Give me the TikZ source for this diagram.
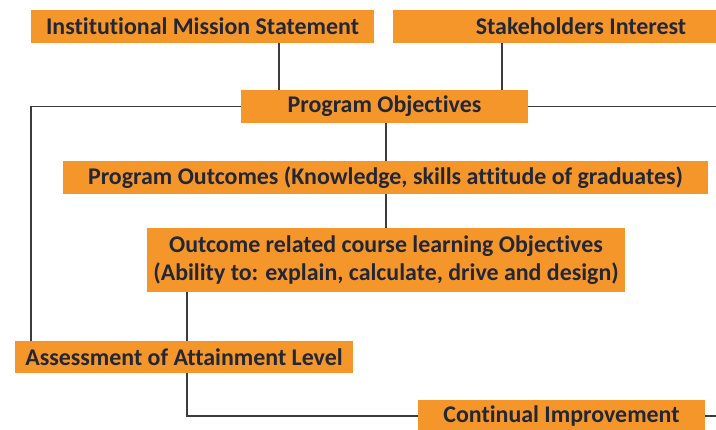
\documentclass[tikz,border=0pt]{standalone}
\usepackage{fontspec}
\setmainfont{Carlito}[Ligatures=NoCommon]
\definecolor{boxorange}{RGB}{245,150,42}
\definecolor{textnavy}{RGB}{35,38,52}
\definecolor{linegray}{RGB}{60,60,64}
\tikzset{
  obox/.style={fill=boxorange, text=textnavy, inner sep=0pt, align=center,
    font=\fontsize{17}{19.5}\selectfont\bfseries},
  link/.style={draw=linegray, line width=1pt}
}
\begin{document}
\begin{tikzpicture}[x=0.025cm, y=-0.025cm]
    \clip (0,0) rectangle (716,429);
    \useasboundingbox (0,0) rectangle (716,429);

    \node[obox, minimum width=343*0.025cm, minimum height=33*0.025cm] (ims) at (202.5,26.5) {Institutional Mission Statement};
    \node[obox, minimum width=376*0.025cm, minimum height=33*0.025cm] (sh) at (581,26.5) {Stakeholders Interest};

    \node[obox, minimum width=287*0.025cm, minimum height=33*0.025cm] (po) at (384.5,106.5) {Program Objectives};

    \node[obox, minimum width=645*0.025cm, minimum height=33*0.025cm] (pout) at (385.5,177.5) {Program Outcomes (Knowledge, skills attitude of graduates)};

    \node[obox, minimum width=478*0.025cm, minimum height=64*0.025cm] (orl) at (386,260) {Outcome related course learning Objectives\\(Ability to: explain, calculate, drive and design)};

    \node[obox, minimum width=338*0.025cm, minimum height=32*0.025cm] (ass) at (184,357) {Assessment of Attainment Level};

    \node[obox, minimum width=287*0.025cm, minimum height=32*0.025cm] (ci) at (561.5,416) {Continual Improvement};

    \coordinate (imsd) at (279,43);
    \coordinate (shd) at (502,43);
    \coordinate (ctr) at (386,0);
    \coordinate (lft) at (31,341);
    \coordinate (rgt) at (716,106.5);
    \coordinate (mid) at (187,292);
    \coordinate (asd) at (187,373);
    \coordinate (cir) at (716,416);

    \draw[link] (imsd) -- (imsd |- po.north);
    \draw[link] (shd) -- (shd |- po.north);
    \draw[link] (po.west) -| (lft);
    \draw[link] (po.east) -- (rgt);
    \draw[link] (ctr |- po.south) -- (ctr |- pout.north);
    \draw[link] (ctr |- pout.south) -- (ctr |- orl.north);
    \draw[link] (mid) -- (mid |- ass.north);
    \draw[link] (asd) |- (ci.west);
    \draw[link] (ci.east) -- (cir);
\end{tikzpicture}
\end{document}
